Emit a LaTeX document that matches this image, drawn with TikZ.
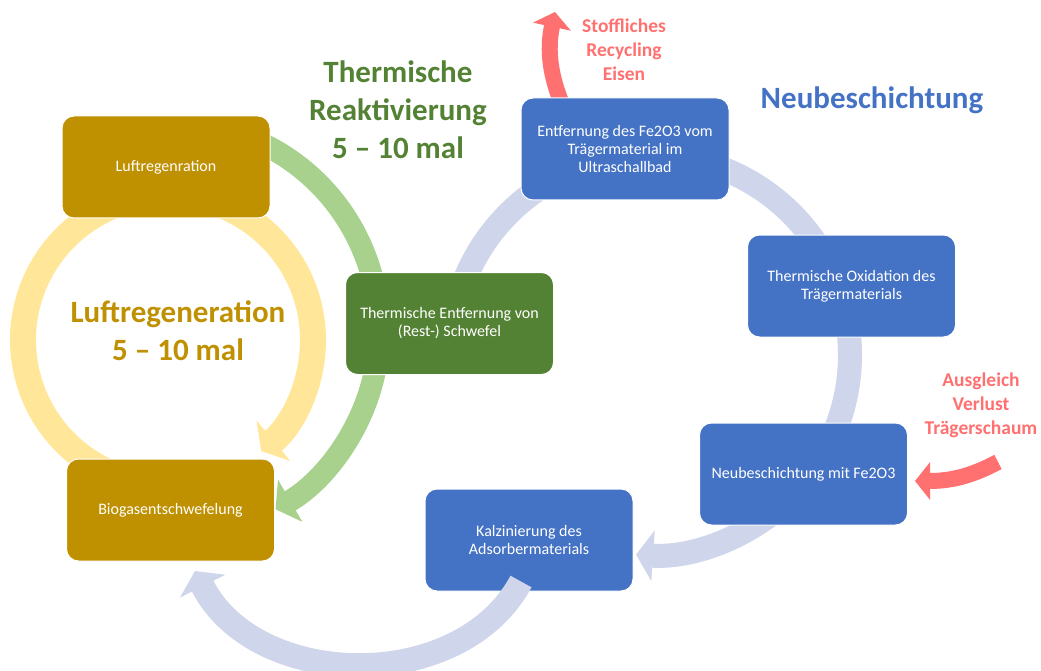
\documentclass[tikz,border=0pt]{standalone}
\usepackage{fontspec}
\setmainfont{Carlito}
\usetikzlibrary{arrows.meta,calc}
\definecolor{gold}{RGB}{191,144,0}
\definecolor{dgreen}{RGB}{84,130,53}
\definecolor{mblue}{RGB}{68,114,196}
\definecolor{ylring}{RGB}{255,230,153}
\definecolor{grring}{RGB}{169,209,142}
\definecolor{blring}{RGB}{207,213,234}
\definecolor{salmon}{RGB}{255,112,112}
\begin{document}
\begin{tikzpicture}[x=1pt,y=-1pt,
  box/.style={draw=white, line width=1pt, rounded corners=12pt,
    minimum width=208pt, minimum height=102pt, text=white, align=center,
    font=\fontsize{16}{18}\selectfont, inner sep=0pt},
  goldbox/.style={box, fill=gold},
  greenbox/.style={box, fill=dgreen},
  bluebox/.style={box, fill=mblue},
  title/.style={font=\fontsize{31}{38}\selectfont\bfseries, align=center},
  note/.style={font=\fontsize{19.5}{24}\selectfont\bfseries, align=center, text=salmon},
  yring/.style={draw=ylring, line width=26pt},
  gring/.style={draw=grring, line width=22pt},
  bring/.style={draw=blring, line width=24pt},
  redarrow/.style={draw=salmon, line width=16pt}
]
\useasboundingbox (0,0) rectangle (1041,671);

% circle centres
\coordinate (yc) at (168,340);
\coordinate (gc) at (172,330);
\coordinate (bc) at (650,355);

% yellow ring (Luftregeneration loop)
\draw[yring, -{Triangle[width=52pt,length=16pt]}]
  ($(yc)+(-90:145)$) arc[start angle=-90, end angle=50, radius=145];
\draw[yring] ($(yc)+(115:145)$) arc[start angle=115, end angle=270, radius=145];

% green ring (thermische Reaktivierung)
\draw[gring, -{Triangle[width=48pt,length=17pt]}]
  ($(gc)+(-72:207)$) arc[start angle=-72, end angle=60, radius=207];

% blue ring (Neubeschichtung)
\draw[bring] ($(bc)+(200:200)$) arc[start angle=200, end angle=245, radius=200];
\draw[bring] ($(bc)+(280:200)$) arc[start angle=280, end angle=330, radius=200];
\draw[bring] ($(bc)+(-10:200)$) arc[start angle=-10, end angle=30, radius=200];
\draw[bring, -{Triangle[width=50pt,length=17pt]}]
  ($(bc)+(50:200)$) arc[start angle=50, end angle=94, radius=200];

% red arrow up (starts under the box)
\coordinate (upbase) at (562,104);
\coordinate (uptip) at (555,12);
\draw[redarrow, -{Triangle[width=38pt,length=15pt]}]
  (upbase) .. controls (548,70) and (548,45) .. (uptip);

% boxes
\node[goldbox]  (luft) at (166,167)   {Luftregenration};
\node[goldbox]  (bio)  at (170.5,510) {Biogasentschwefelung};
\node[bluebox]  (kalz) at (529,540)   {Kalzinierung des\\Adsorbermaterials};

\coordinate (etip) at (195,571);
\draw[bring, -{Triangle[width=50pt,length=17pt]}]
  ($(kalz.south)+(-8,-10)$) .. controls (460,695) and (255,690) .. (etip);

\node[bluebox]  (entf) at (625,149)   {Entfernung des Fe2O3 vom\\Trägermaterial im\\Ultraschallbad};
\node[greenbox] (therm) at (449.5,323.5) {Thermische Entfernung von\\(Rest-) Schwefel};
\node[bluebox]  (oxid) at (851.5,286) {Thermische Oxidation des\\Trägermaterials};
\node[bluebox]  (neub) at (803.5,474) {Neubeschichtung mit Fe2O3};

% red arrow left
\coordinate (ltip) at (915,481);
\coordinate (lstart) at (998,462);
\draw[redarrow, -{Triangle[width=37pt,length=15pt]}]
  (lstart) .. controls (975,474) and (955,481) .. (ltip);

% titles
\node[title, text=dgreen] (ttherm) at (398,110) {Thermische\\Reaktivierung\\5 – 10 mal};
\node[title, text=mblue] (tneu) at (872,100) {Neubeschichtung};
\node[title, text=gold] (tluft) at (178,331) {Luftregeneration\\5 – 10 mal};
\node[note] (nstoff) at (624,50) {Stoffliches\\Recycling\\Eisen};
\node[note] (naus) at (981,405) {Ausgleich\\Verlust\\Trägerschaum};
\end{tikzpicture}
\end{document}
